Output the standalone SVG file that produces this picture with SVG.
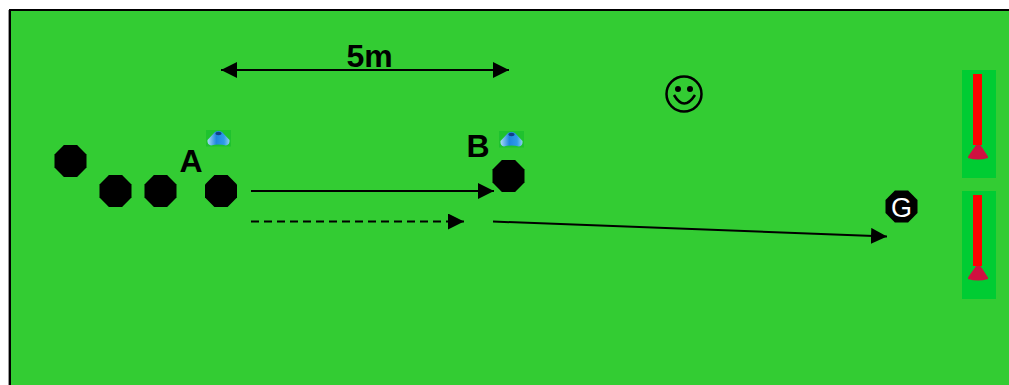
<svg xmlns="http://www.w3.org/2000/svg" width="1009" height="385" viewBox="0 0 1009 385">
<style>
.lbl{font-family:"Liberation Sans",Arial,sans-serif;font-weight:700;font-size:32px;fill:#000}
.ln{stroke:#000;stroke-width:2;fill:none}
.oct{fill:#000}
.gate{fill:#00cc33}
.pole{fill:#ff0000}
</style>
<defs>
<marker id="ah" markerUnits="userSpaceOnUse" markerWidth="16" markerHeight="16" refX="16" refY="8" orient="auto-start-reverse" viewBox="0 0 16 16"><path d="M0 0L16 8L0 16Z" fill="#000"/></marker>
<polygon id="o" points="-6.6,-16 6.6,-16 16,-6.6 16,6.6 6.6,16 -6.6,16 -16,6.6 -16,-6.6"/>
<linearGradient id="blue" x1="0" y1="0" x2="1" y2="0"><stop offset="0" stop-color="#a8dcf5"/><stop offset="0.4" stop-color="#1f86e0"/><stop offset="0.75" stop-color="#2d9be8"/><stop offset="1" stop-color="#8fd0f0"/></linearGradient>
<g id="cone"><rect x="-12" y="-8.500" width="25" height="16.500" fill="#1fc22e"/><path d="M-3,-6.500 Q0.500,-8.500 4,-6.500 L11.500,1.500 Q12,6 8,7 Q0.500,5 -7,7 Q-11,6 -10.500,1.500Z" fill="url(#blue)"/><ellipse cx="0.500" cy="-5" rx="3" ry="1.700" fill="#123f8a"/></g>
<g id="redcone"><path d="M-2,-8.500 L2.500,-8.500 L10,3 L10,4.500 Q0,7.500 -10,4.500 L-10,3Z" fill="#d01040"/></g>
</defs>
<rect width="1009" height="385" fill="#fff"/>
<rect x="8" y="10" width="1" height="375" fill="#999"/>
<rect id="field" x="10" y="10" width="1010" height="385" fill="#33cc33" stroke="#000" stroke-width="2"/>
<g id="connectors">
<line class="ln" x1="221" y1="70" x2="509" y2="70" marker-start="url(#ah)" marker-end="url(#ah)"/>
<line class="ln" x1="251" y1="191" x2="494" y2="191" marker-end="url(#ah)"/>
<line class="ln" x1="251" y1="221.500" x2="464" y2="221.500" stroke-dasharray="8 5" marker-end="url(#ah)"/>
<line class="ln" x1="493" y1="221.500" x2="887" y2="236.500" marker-end="url(#ah)"/>
</g>
<g id="dist"><text class="lbl" x="369.500" y="67" text-anchor="middle">5m</text></g>
<g id="smiley" fill="none" stroke="#000" stroke-width="2.500">
<circle cx="684" cy="94" r="17.500"/>
<path d="M674,95 Q684,112 695,95"/>
<circle cx="678" cy="89" r="3" fill="#000" stroke="none"/>
<circle cx="690" cy="89" r="3" fill="#000" stroke="none"/>
</g>
<g id="p1" class="oct"><use href="#o" x="70.500" y="161"/></g>
<g id="p2" class="oct"><use href="#o" x="115.500" y="191"/></g>
<g id="p3" class="oct"><use href="#o" x="160.500" y="191"/></g>
<g id="nodeA" class="oct"><use href="#o" x="221" y="191"/><text class="lbl" x="191" y="172" text-anchor="middle">A</text><use href="#cone" x="218" y="138.500"/></g>
<g id="nodeB" class="oct"><use href="#o" x="508.500" y="176"/><text class="lbl" x="478" y="157" text-anchor="middle">B</text><use href="#cone" x="511" y="139.500"/></g>
<g id="nodeG"><use href="#o" x="901.500" y="206.500"/><text x="901.500" y="217" text-anchor="middle" font-family="Liberation Sans,Arial,sans-serif" font-size="27" fill="#fff">G</text></g>
<g id="gate1"><rect class="gate" x="962" y="70" width="34" height="108"/><rect class="pole" x="973" y="74" width="9" height="71"/><use href="#redcone" x="978" y="153.500"/></g>
<g id="gate2"><rect class="gate" x="962" y="191" width="34" height="108"/><rect class="pole" x="973" y="195" width="9" height="71"/><use href="#redcone" x="978" y="274.500"/></g>
</svg>
